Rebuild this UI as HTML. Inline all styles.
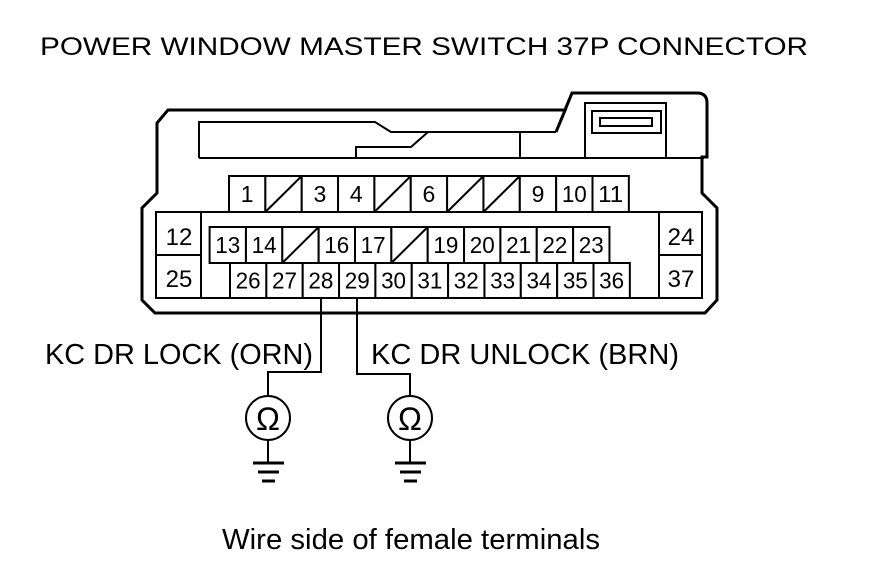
<!DOCTYPE html>
<html><head><meta charset="utf-8"><style>
html,body{margin:0;padding:0;background:#fff;}
svg{display:block;}
text{font-family:"Liberation Sans",Arial,sans-serif;fill:#000;}
</style></head><body>
<svg width="880" height="578" viewBox="0 0 880 578" xmlns="http://www.w3.org/2000/svg">
<text x="40" y="55" font-size="25" textLength="768" lengthAdjust="spacingAndGlyphs">POWER WINDOW MASTER SWITCH 37P CONNECTOR</text>

<g fill="none" stroke="#000" stroke-width="3" stroke-linejoin="miter">
<path d="M168,110 L565,110 L572,93 L697,93 Q707,93 707,103 L707,157 L702,157 L702,193 L717,208 L717,300 L705,313 L155,313 L142,300 L142,208 L157,193 L157,123 Z"/>
<line x1="556" y1="132" x2="566" y2="108"/>
</g>
<g fill="none" stroke="#000" stroke-width="2">
<path d="M199,158 L199,122 L375,122 L391,132 L556,132"/>
<path d="M199,158 L704,158"/>
<path d="M356,158 L356,147 L411,147 L428,132"/>
<path d="M520,132 L520,158"/>
<path d="M585,158 L585,103 L666,103 L666,158"/>
<rect x="592" y="111" width="69" height="22"/>
<rect x="600" y="118" width="52" height="8"/>
<rect x="156" y="212" width="546" height="86"/>
<line x1="201" y1="212" x2="201" y2="298"/>
<line x1="156" y1="255" x2="201" y2="255"/>
<line x1="659" y1="212" x2="659" y2="298"/>
<line x1="659" y1="255" x2="702" y2="255"/>
</g>

<g fill="none" stroke="#000" stroke-width="2">
<path d="M321,298 L321,372 L268,372 L268,396"/>
<path d="M357,298 L357,374 L410,374 L410,396"/>
<circle cx="268" cy="418" r="22"/>
<circle cx="410" cy="418" r="22"/>
<line x1="268" y1="440" x2="268" y2="463"/>
<line x1="410" y1="440" x2="410" y2="463"/>
</g>
<g stroke="#000" stroke-width="3">
<line x1="253" y1="463" x2="284" y2="463"/><line x1="258" y1="472" x2="279" y2="472"/><line x1="262" y1="481" x2="275" y2="481"/>
<line x1="395" y1="463" x2="426" y2="463"/><line x1="400" y1="472" x2="421" y2="472"/><line x1="404" y1="481" x2="417" y2="481"/>
</g>
<text x="268" y="430" font-size="32" text-anchor="middle">Ω</text>
<text x="410" y="430" font-size="32" text-anchor="middle">Ω</text>

<text x="45" y="364" font-size="29" textLength="268" lengthAdjust="spacingAndGlyphs">KC DR LOCK (ORN)</text>
<text x="371" y="364" font-size="29" textLength="308" lengthAdjust="spacingAndGlyphs">KC DR UNLOCK (BRN)</text>
<text x="222" y="549" font-size="29" textLength="378" lengthAdjust="spacingAndGlyphs">Wire side of female terminals</text>
<text x="179" y="245" font-size="24" text-anchor="middle">12</text>
<text x="179" y="287" font-size="24" text-anchor="middle">25</text>
<text x="681" y="245" font-size="24" text-anchor="middle">24</text>
<text x="681" y="287" font-size="24" text-anchor="middle">37</text>

<g id="gen"></g>
</svg>
<script>
(function(){
var ns="http://www.w3.org/2000/svg";
var g=document.getElementById("gen");
function row(x0,y0,h,labels){
 var w=36.35;
 for(var i=0;i<labels.length;i++){
  var x=x0+i*w;
  var r=document.createElementNS(ns,"rect");
  r.setAttribute("x",x);r.setAttribute("y",y0);r.setAttribute("width",w);r.setAttribute("height",h);
  r.setAttribute("fill","#fff");r.setAttribute("stroke","#000");r.setAttribute("stroke-width","2");
  g.appendChild(r);
  var l=labels[i];
  if(l==="/"){
   var ln=document.createElementNS(ns,"line");
   ln.setAttribute("x1",x+1);ln.setAttribute("y1",y0+h-1);ln.setAttribute("x2",x+w-1);ln.setAttribute("y2",y0+1);
   ln.setAttribute("stroke","#000");ln.setAttribute("stroke-width","2");g.appendChild(ln);
  } else if(l!==""){
   var t=document.createElementNS(ns,"text");
   t.setAttribute("x",x+w/2);t.setAttribute("y",y0+h/2+8);t.setAttribute("font-size","23");
   t.setAttribute("text-anchor","middle");
   if(l.length==2){t.setAttribute("textLength","25");t.setAttribute("lengthAdjust","spacingAndGlyphs");}
   t.textContent=l;g.appendChild(t);
  }
 }
}
row(229,176,36,["1","/","3","4","/","6","/","/","9","10","11"]);
row(209.6,227,36,["13","14","/","16","17","/","19","20","21","22","23"]);
row(230,263,35,["26","27","28","29","30","31","32","33","34","35","36"]);
})();
</script>
</body></html>
